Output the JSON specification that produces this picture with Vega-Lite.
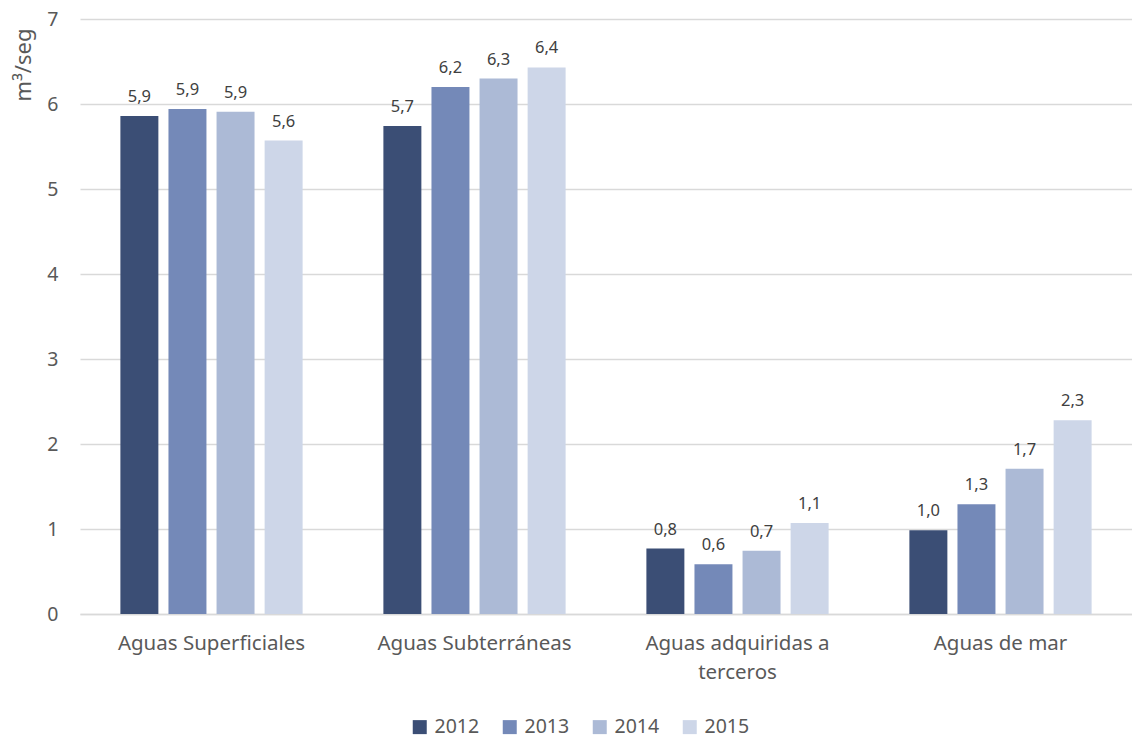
{
  "$schema": "https://vega.github.io/schema/vega-lite/v6.json",
  "width": 1052,
  "height": 595,
  "autosize": {"type": "none"},
  "padding": {"left": 80, "top": 19, "right": 0, "bottom": 124},
  "background": "white",
  "config": {
    "locale": {"number": {"decimal": ",", "thousands": ".", "grouping": [3], "currency": ["", " €"]}},
    "font": "Noto Sans",
    "view": {"stroke": null}
  },
  "data": {
    "values": [
      {"fuente": "Aguas Superficiales", "anio": "2012", "valor": 5.86},
      {"fuente": "Aguas Superficiales", "anio": "2013", "valor": 5.94},
      {"fuente": "Aguas Superficiales", "anio": "2014", "valor": 5.91},
      {"fuente": "Aguas Superficiales", "anio": "2015", "valor": 5.57},
      {"fuente": "Aguas Subterráneas", "anio": "2012", "valor": 5.74},
      {"fuente": "Aguas Subterráneas", "anio": "2013", "valor": 6.2},
      {"fuente": "Aguas Subterráneas", "anio": "2014", "valor": 6.3},
      {"fuente": "Aguas Subterráneas", "anio": "2015", "valor": 6.43},
      {"fuente": "Aguas adquiridas a terceros", "anio": "2012", "valor": 0.77},
      {"fuente": "Aguas adquiridas a terceros", "anio": "2013", "valor": 0.585},
      {"fuente": "Aguas adquiridas a terceros", "anio": "2014", "valor": 0.745},
      {"fuente": "Aguas adquiridas a terceros", "anio": "2015", "valor": 1.07},
      {"fuente": "Aguas de mar", "anio": "2012", "valor": 0.985},
      {"fuente": "Aguas de mar", "anio": "2013", "valor": 1.29},
      {"fuente": "Aguas de mar", "anio": "2014", "valor": 1.71},
      {"fuente": "Aguas de mar", "anio": "2015", "valor": 2.28}
    ]
  },
  "encoding": {
    "x": {
      "field": "fuente", "type": "nominal", "sort": null,
      "scale": {"paddingInner": 0, "paddingOuter": 0},
      "axis": {
        "title": null, "labelAngle": 0, "ticks": false,
        "domainColor": "#D9D9D9", "domainWidth": 1.3,
        "labelFontSize": 20.5, "labelColor": "#595959", "labelPadding": 19,
        "labelLineHeight": 29, "labelLimit": 300,
        "labelExpr": "datum.value == 'Aguas adquiridas a terceros' ? ['Aguas adquiridas a', 'terceros'] : datum.value"
      }
    },
    "xOffset": {
      "field": "anio", "type": "nominal",
      "scale": {"paddingInner": 0.21, "paddingOuter": 0.84}
    },
    "y": {
      "field": "valor", "type": "quantitative",
      "scale": {"domain": [0, 7], "nice": false},
      "axis": {
        "values": [0, 1, 2, 3, 4, 5, 6, 7], "format": "d",
        "domain": false, "ticks": false,
        "gridColor": "#D9D9D9", "gridWidth": 1.3,
        "labelFontSize": 19.5, "labelColor": "#595959", "labelPadding": 22,
        "title": "m³/seg", "titleFontSize": 22, "titleFontWeight": "normal", "titleColor": "#595959",
        "titleAngle": -90, "titleAlign": "right", "titleBaseline": "bottom",
        "titleX": -45, "titleY": 9
      }
    }
  },
  "layer": [
    {
      "mark": {"type": "bar"},
      "encoding": {
        "color": {
          "field": "anio", "type": "nominal",
          "scale": {"domain": ["2012", "2013", "2014", "2015"], "range": ["#3B4E75", "#7489B8", "#ACBAD6", "#CDD6E8"]},
          "legend": {
            "title": null, "orient": "none", "direction": "horizontal",
            "legendX": 330, "legendY": 698,
            "symbolType": "square", "symbolSize": 196, "symbolStrokeWidth": 0,
            "labelFontSize": 19.5, "labelColor": "#595959", "labelOffset": 5,
            "columnPadding": 20
          }
        }
      }
    },
    {
      "mark": {"type": "text", "baseline": "alphabetic", "dy": -14, "fontSize": 16.5, "color": "#404040"},
      "encoding": {
        "text": {"field": "valor", "type": "quantitative", "format": ".1f"}
      }
    }
  ]
}
